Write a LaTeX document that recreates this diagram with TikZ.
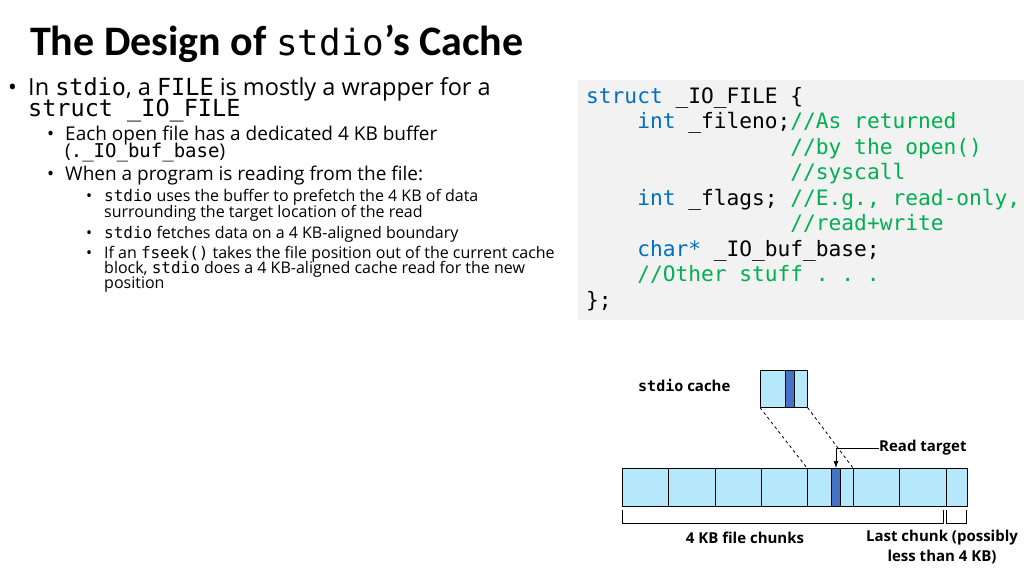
\documentclass[tikz,border=0pt]{standalone}
\usepackage{fontspec}
\usetikzlibrary{arrows.meta}
\setmainfont{Open Sans}
\setmonofont{DejaVu Sans Mono}
\newfontfamily\titlefont{Carlito}
\definecolor{kw}{RGB}{0,112,192}
\definecolor{cm}{RGB}{0,176,80}
\definecolor{codebg}{RGB}{242,242,242}
\definecolor{cell}{RGB}{180,232,250}
\definecolor{dark}{RGB}{68,114,196}
\tikzset{
 t/.style={anchor=base west,inner sep=0pt},
 la/.style={t,font=\fontsize{23.5}{23.5}\selectfont},
 lb/.style={t,font=\fontsize{19}{19}\selectfont},
 lc/.style={t,font=\fontsize{16}{16}\selectfont},
 code/.style={t,font=\fontsize{21.2}{21.2}\ttfamily},
 cellbox/.style={draw=black,line width=0.6pt,fill=cell},
 lbl/.style={inner sep=0pt,font=\fontsize{15}{15}\selectfont\bfseries},
}
\begin{document}
\begin{tikzpicture}[x=1pt,y=-1pt]
\useasboundingbox (0,0) rectangle (1024,576);
% title
\node[t,font=\fontsize{42}{42}\titlefont\bfseries] (title) at (30,55) {The Design of {\fontsize{36}{36}\ttfamily\mdseries stdio}’s Cache};
% bullets
\node[la] (b1) at (8,95) {•};
\node[la] (l1) at (28,95) {In {\ttfamily stdio}, a {\ttfamily FILE} is mostly a wrapper for a};
\node[la] (l2) at (28,116) {\ttfamily struct \_IO\_FILE};
\node[lb] (b2) at (47,140) {•};
\node[lb] (l3) at (65,140) {Each open file has a dedicated 4 KB buffer};
\node[lb] (l4) at (65,157) {({\ttfamily .\_IO\_buf\_base})};
\node[lb] (b3) at (47,180) {•};
\node[lb] (l5) at (65,180) {When a program is reading from the file:};
\node[lc] (b4) at (86,201) {•};
\node[lc] (l6) at (104,201) {{\ttfamily stdio} uses the buffer to prefetch the 4 KB of data};
\node[lc] (l7) at (104,217) {surrounding the target location of the read};
\node[lc] (b5) at (86,238) {•};
\node[lc] (l8) at (104,238) {{\ttfamily stdio} fetches data on a 4 KB-aligned boundary};
\node[lc] (b6) at (86,258) {•};
\node[lc] (l9) at (104,258) {If an {\ttfamily fseek()} takes the file position out of the current cache};
\node[lc] (l10) at (104,273) {block, {\ttfamily stdio} does a 4 KB-aligned cache read for the new};
\node[lc] (l11) at (104,288) {position};
% code
\fill[codebg] (578,80) rectangle (1024,320);
\node[code] (c1) at (586,103) {\textcolor{kw}{struct} \_IO\_FILE \{};
\node[code] (c2) at (586,128.5) {~~~~\textcolor{kw}{int} \_fileno;\textcolor{cm}{//As returned}};
\node[code] (c3) at (586,154) {~~~~~~~~~~~~~~~~\textcolor{cm}{//by the open()}};
\node[code] (c4) at (586,179.5) {~~~~~~~~~~~~~~~~\textcolor{cm}{//syscall}};
\node[code] (c5) at (586,205) {~~~~\textcolor{kw}{int} \_flags; \textcolor{cm}{//E.g., read-only,}};
\node[code] (c6) at (586,230.5) {~~~~~~~~~~~~~~~~\textcolor{cm}{//read+write}};
\node[code] (c7) at (586,256) {~~~~\textcolor{kw}{char*} \_IO\_buf\_base;};
\node[code] (c8) at (586,281.5) {~~~~\textcolor{cm}{//Other stuff . . .}};
\node[code] (c9) at (586,307) {\};};
% diagram
\foreach \a/\b [count=\i] in {622/668,668/715,715/761,761/807,807/853,853/899,899/946,946/967}
  \draw[cellbox] (\a,468) rectangle (\b,506);
\fill[dark,draw=black,line width=0.6pt] (831,468) rectangle (840,506);
\node[cellbox,minimum width=47pt,minimum height=37pt,inner sep=0pt,anchor=north west] (cache) at (760,370) {};
\fill[dark,draw=black,line width=0.6pt] (785,370) rectangle (794,407);
\node[lbl,anchor=base west] (cl) at (638,391) {{\ttfamily stdio} cache};
\coordinate (f1) at (807,468);
\coordinate (f2) at (853,468);
\draw[dashed,line width=0.8pt] (cache.south west) -- (f1);
\draw[dashed,line width=0.8pt] (cache.south east) -- (f2);
\node[lbl,anchor=west] (rt) at (879,448) {Read target};
\coordinate (tgt) at (836,468);
\draw[line width=0.8pt,-{Latex[length=7pt,width=5pt]}] (rt.west) -- (836,448) -- (tgt);
\draw[line width=0.8pt] (622,510) -- (622,523) -- (943,523) -- (943,510);
\draw[line width=0.8pt] (946,510) -- (946,523) -- (966,523) -- (966,510);
\node[lbl] (ch) at (745,538) {4 KB file chunks};
\node[lbl,align=center,font=\fontsize{15}{19.5}\selectfont\bfseries] (lc) at (942,547) {Last chunk (possibly\\less than 4 KB)};
\end{tikzpicture}
\end{document}
